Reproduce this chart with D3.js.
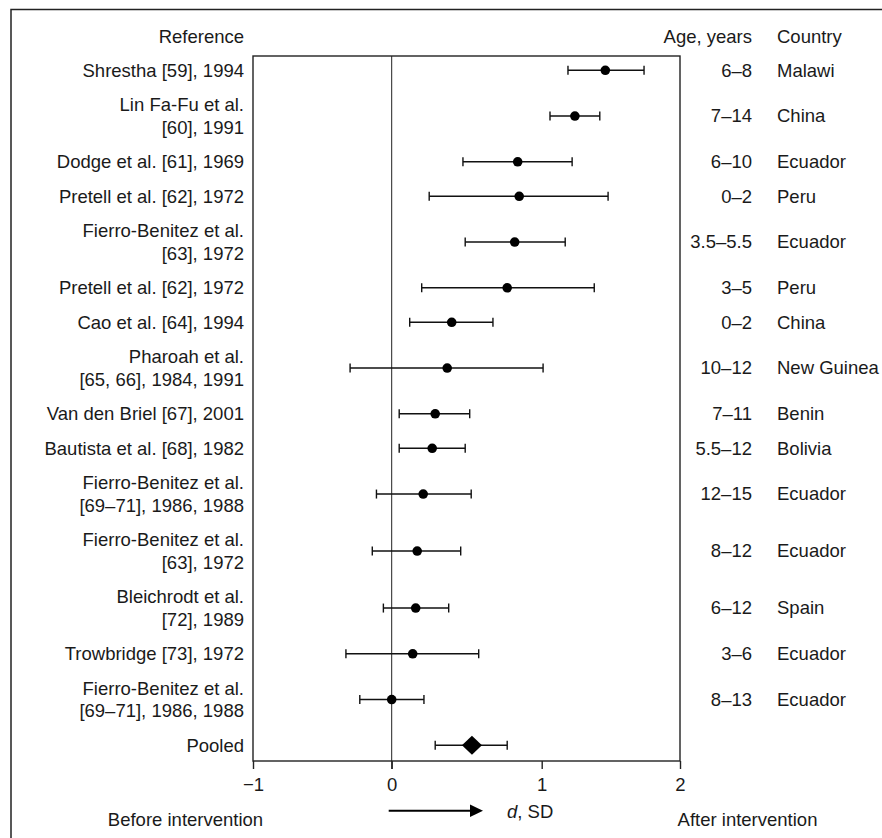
<!DOCTYPE html>
<html>
<head>
<meta charset="utf-8">
<script src="https://cdn.jsdelivr.net/npm/d3@7"></script>
<style>
    body { margin: 0; background: #fff; }
    text { font-family: "Liberation Sans", Arial, Helvetica, sans-serif; fill: #1a1a1a; }
</style>
</head>
<body>
<svg id="svgContent" width="882" height="838"></svg>
<script>
const references = [
    "Shrestha [59], 1994",
    "Lin Fa-Fu et al.\n[60], 1991",
    "Dodge et al. [61], 1969",
    "Pretell et al. [62], 1972",
    "Fierro-Benitez et al.\n[63], 1972",
    "Pretell et al. [62], 1972",
    "Cao et al. [64], 1994",
    "Pharoah et al.\n[65, 66], 1984, 1991",
    "Van den Briel [67], 2001",
    "Bautista et al. [68], 1982",
    "Fierro-Benitez et al.\n[69–71], 1986, 1988",
    "Fierro-Benitez et al.\n[63], 1972",
    "Bleichrodt et al.\n[72], 1989",
    "Trowbridge [73], 1972",
    "Fierro-Benitez et al.\n[69–71], 1986, 1988",
    "Pooled"
]
const ages = ["6–8", "7–14", "6–10", "0–2", "3.5–5.5", "3–5", "0–2", "10–12", "7–11",
    "5.5–12", "12–15", "8–12", "6–12", "3–6", "8–13", ""]
const countries = ["Malawi", "China", "Ecuador", "Peru", "Ecuador", "Peru", "China", "New Guinea",
    "Benin", "Bolivia", "Ecuador", "Ecuador", "Spain", "Ecuador", "Ecuador", ""]
const effect = [1.46, 1.24, 0.84, 0.85, 0.82, 0.77, 0.40, 0.37, 0.29, 0.27, 0.21, 0.17, 0.16, 0.14, 0.00, 0.535]
const lower = [1.19, 1.06, 0.475, 0.25, 0.49, 0.20, 0.12, -0.30, 0.05, 0.05, -0.11, -0.14, -0.06, -0.33, -0.23, 0.29]
const upper = [1.74, 1.42, 1.22, 1.48, 1.17, 1.38, 0.675, 1.01, 0.52, 0.49, 0.53, 0.46, 0.38, 0.58, 0.215, 0.77]
const xTicks = [-1, 0, 1, 2]

const svg = d3.select('#svgContent')

const boxLeft = 253, boxRight = 680, boxTop = 56, boxBottom = 761
const lineH = 22.5, rowPad = 12
const fs = '18.5px'

// the printed axis is not quite even, so map each tick onto where it sits
const x = d3.scaleLinear()
    .domain(xTicks)
    .range([boxLeft, 391.7, 541.7, boxRight])

// rows grow with the number of lines in the reference label
const rows = references.map((r, i) => ({
    ref: r.split('\n'),
    age: ages[i],
    country: countries[i],
    d: effect[i],
    lo: lower[i],
    hi: upper[i],
    pooled: i === references.length - 1
}))
let acc = 0
rows.forEach(row => {
    const h = rowPad + lineH * row.ref.length
    row.mid = acc + h / 2
    acc += h
})
const y = d3.scaleLinear().domain([0, acc]).range([53.05, 53.05 + acc])

// outer frame (cut at right and bottom)
svg.append('path')
    .attr('d', `M11,${838 + 5}V9.5H${882 + 5}`)
    .attr('fill', 'none')
    .attr('stroke', '#222')
    .attr('stroke-width', 1.5)

// plot box
svg.append('rect')
    .attr('x', boxLeft)
    .attr('y', boxTop)
    .attr('width', boxRight - boxLeft)
    .attr('height', boxBottom - boxTop)
    .attr('fill', 'none')
    .attr('stroke', '#222')
    .attr('stroke-width', 1.4)

// zero line
svg.append('line')
    .attr('x1', x(0)).attr('x2', x(0))
    .attr('y1', boxTop).attr('y2', boxBottom + 8)
    .attr('stroke', '#222')
    .attr('stroke-width', 1)

// x axis
const axis = svg.append('g')
    .attr('transform', `translate(0,${boxBottom})`)
    .call(d3.axisBottom(x).tickValues(xTicks).tickSize(8).tickPadding(9)
        .tickFormat(d => d < 0 ? '\u2212' + Math.abs(d) : d))
axis.select('.domain').remove()
axis.selectAll('line').attr('stroke', '#222').attr('stroke-width', 1.4)
axis.selectAll('text')
    .attr('fill', '#1a1a1a')
    .style('font-size', fs)
    .style('font-family', '"Liberation Sans", Arial, sans-serif')
    .attr('dy', '0.71em')

// headers
svg.append('text').attr('x', 244).attr('y', 43).attr('text-anchor', 'end')
    .style('font-size', fs).text('Reference')
svg.append('text').attr('x', 752).attr('y', 43).attr('text-anchor', 'end')
    .style('font-size', fs).text('Age, years')
svg.append('text').attr('x', 777).attr('y', 43)
    .style('font-size', fs).text('Country')

const rowG = svg.selectAll('.row')
    .data(rows)
    .join('g')
    .attr('class', 'row')

// reference labels
rowG.append('text')
    .attr('text-anchor', 'end')
    .attr('x', 244)
    .style('font-size', fs)
    .each(function (d) {
        const first = y(d.mid) + 6.4 - (d.ref.length - 1) * lineH / 2
        d3.select(this).selectAll('tspan')
            .data(d.ref)
            .join('tspan')
            .attr('x', 244)
            .attr('y', (t, k) => first + k * lineH)
            .text(t => t)
    })

rowG.append('text')
    .attr('text-anchor', 'end')
    .attr('x', 752)
    .attr('y', d => y(d.mid) + 6.4)
    .style('font-size', fs)
    .text(d => d.age)

rowG.append('text')
    .attr('x', 777)
    .attr('y', d => y(d.mid) + 6.4)
    .style('font-size', fs)
    .text(d => d.country)

// confidence intervals
rowG.append('line')
    .attr('x1', d => x(d.lo)).attr('x2', d => x(d.hi))
    .attr('y1', d => y(d.mid)).attr('y2', d => y(d.mid))
    .attr('stroke', '#111').attr('stroke-width', 1.4)
rowG.selectAll('.cap')
    .data(d => [d.lo, d.hi].map(v => ({ v, mid: d.mid })))
    .join('line')
    .attr('class', 'cap')
    .attr('x1', c => x(c.v)).attr('x2', c => x(c.v))
    .attr('y1', c => y(c.mid) - 4.5).attr('y2', c => y(c.mid) + 4.5)
    .attr('stroke', '#111').attr('stroke-width', 1.4)

// point estimates
rowG.filter(d => !d.pooled)
    .append('circle')
    .attr('cx', d => x(d.d))
    .attr('cy', d => y(d.mid))
    .attr('r', 4.8)
    .attr('fill', '#000')

rowG.filter(d => d.pooled)
    .append('path')
    .attr('d', d => {
        const cx = x(d.d), cy = y(d.mid)
        return `M${cx - 10},${cy}L${cx},${cy - 9.5}L${cx + 10},${cy}L${cx},${cy + 9.5}Z`
    })
    .attr('fill', '#000')

// footer
svg.append('text').attr('x', 185.5).attr('y', 826).attr('text-anchor', 'middle')
    .style('font-size', fs).text('Before intervention')
svg.append('text').attr('x', 747.5).attr('y', 826).attr('text-anchor', 'middle')
    .style('font-size', fs).text('After intervention')

svg.append('line')
    .attr('x1', x(0) - 3).attr('x2', 471)
    .attr('y1', 810.7).attr('y2', 810.7)
    .attr('stroke', '#000').attr('stroke-width', 2)
svg.append('path')
    .attr('d', 'M470,804.5L483,810.7L470,816.9Z')
    .attr('fill', '#000')

const dLabel = svg.append('text').attr('x', 507).attr('y', 817.5).style('font-size', fs)
dLabel.append('tspan').style('font-style', 'italic').text('d')
dLabel.append('tspan').text(', SD')
</script>
</body>
</html>
